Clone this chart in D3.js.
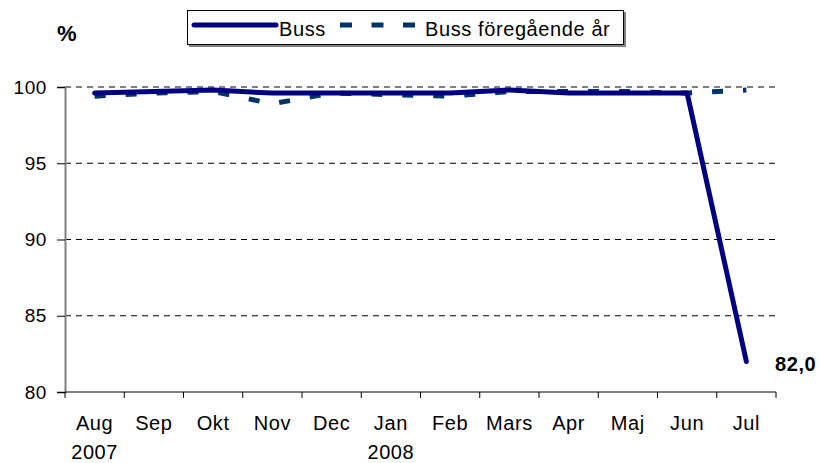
<!DOCTYPE html>
<html>
<head>
<meta charset="utf-8">
<script src="https://cdn.jsdelivr.net/npm/d3@7"></script>
<style>
  body { margin: 0; background: #fff; }
  text { font-family: "Liberation Sans", Arial, sans-serif; letter-spacing: 0.6px; }
</style>
</head>
<body>
<div id="chart"></div>
<script>
// months on the x axis
var months = ["Aug", "Sep", "Okt", "Nov", "Dec", "Jan", "Feb", "Mars", "Apr", "Maj", "Jun", "Jul"]
var years = {"Aug": "2007", "Jan": "2008"}
// series (percent)
var buss = [99.6, 99.7, 99.8, 99.6, 99.6, 99.6, 99.6, 99.8, 99.6, 99.6, 99.6, 82.0]
var bussPrev = [99.4, 99.6, 99.7, 98.9, 99.6, 99.5, 99.4, 99.7, 99.7, 99.7, 99.6, 99.8]
var yTicks = [80, 85, 90, 95, 100]

var width = 820, height = 463
var plotLeft = 65, plotRight = 776, plotTop = 87, plotBottom = 392

var svg = d3.select("#chart").append("svg")
  .attr("width", width).attr("height", height)

var x = d3.scaleBand().domain(months).range([plotLeft, plotRight])
var y = d3.scaleLinear().domain([80, 100]).range([plotBottom, plotTop])

// gridlines
svg.append("g").selectAll("line")
  .data(yTicks.filter(function(d) { return d > 80 }))
  .enter().append("line")
  .attr("x1", plotLeft).attr("x2", plotRight)
  .attr("y1", function(d) { return y(d) }).attr("y2", function(d) { return y(d) })
  .attr("stroke", "#000").attr("stroke-width", 1)
  .attr("stroke-dasharray", "6,5")

// y axis
var yAxis = svg.append("g")
  .attr("transform", "translate(" + plotLeft + ",0)")
  .call(d3.axisLeft(y).tickValues(yTicks).tickSize(8).tickPadding(10))
yAxis.select(".domain").attr("stroke", "#808080").attr("stroke-width", 2)
yAxis.selectAll(".tick line").attr("stroke", "#000")
yAxis.selectAll(".tick text")
  .style("font-size", "19px").style("font-family", "Liberation Sans, Arial, sans-serif")
  .attr("fill", "#000")

// x axis, ticks on the category boundaries
var xAxis = svg.append("g")
  .attr("transform", "translate(0," + plotBottom + ")")
xAxis.append("line")
  .attr("x1", plotLeft).attr("x2", plotRight).attr("stroke", "#000").attr("stroke-width", 1.2)
xAxis.selectAll(".xt")
  .data(months.concat(["end"]))
  .enter().append("line")
  .attr("x1", function(d, i) { return i < months.length ? x(d) : plotRight })
  .attr("x2", function(d, i) { return i < months.length ? x(d) : plotRight })
  .attr("y1", 0).attr("y2", 6).attr("stroke", "#000")
xAxis.selectAll(".xl")
  .data(months)
  .enter().append("text")
  .attr("x", function(d) { return x(d) + x.bandwidth() / 2 })
  .attr("y", 38)
  .attr("text-anchor", "middle")
  .style("font-size", "20px")
  .text(function(d) { return d })
xAxis.selectAll(".yl")
  .data(months.filter(function(d) { return d in years }))
  .enter().append("text")
  .attr("x", function(d) { return x(d) + x.bandwidth() / 2 })
  .attr("y", 67)
  .attr("text-anchor", "middle")
  .style("font-size", "20px")
  .text(function(d) { return years[d] })

var line = d3.line()
  .x(function(d, i) { return x(months[i]) + x.bandwidth() / 2 })
  .y(function(d) { return y(d) })

svg.append("path").datum(bussPrev)
  .attr("d", line).attr("fill", "none")
  .attr("stroke", "#003366").attr("stroke-width", 5)
  .attr("stroke-dasharray", "11,20")

svg.append("path").datum(buss)
  .attr("d", line).attr("fill", "none")
  .attr("stroke", "#000080").attr("stroke-width", 5)
  .attr("stroke-linejoin", "round").attr("stroke-linecap", "round")

// last value label
svg.append("text")
  .attr("x", 775)
  .attr("y", y(buss[11]) + 9)
  .style("font-size", "20px").style("font-weight", "bold")
  .text("82,0")

// unit label
svg.append("text")
  .attr("x", 57).attr("y", 41)
  .style("font-size", "22px").style("font-weight", "bold")
  .text("%")

// legend
var lg = svg.append("g")
lg.append("rect")
  .attr("x", 189).attr("y", 12).attr("width", 437).attr("height", 35)
  .attr("fill", "#808080")
lg.append("rect")
  .attr("x", 187.5).attr("y", 10.5).attr("width", 436).attr("height", 34)
  .attr("fill", "#fff").attr("stroke", "#000").attr("stroke-width", 1)
lg.append("line")
  .attr("x1", 194).attr("x2", 276).attr("y1", 25).attr("y2", 25)
  .attr("stroke", "#000080").attr("stroke-width", 5).attr("stroke-linecap", "round")
lg.append("text").attr("x", 279).attr("y", 36).style("font-size", "20px").text("Buss")
lg.append("line")
  .attr("x1", 340).attr("x2", 420).attr("y1", 25).attr("y2", 25)
  .attr("stroke", "#003366").attr("stroke-width", 5).attr("stroke-dasharray", "12,19.5")
lg.append("text").attr("x", 425).attr("y", 36).style("font-size", "20px").text("Buss föregående år")
</script>
</body>
</html>
